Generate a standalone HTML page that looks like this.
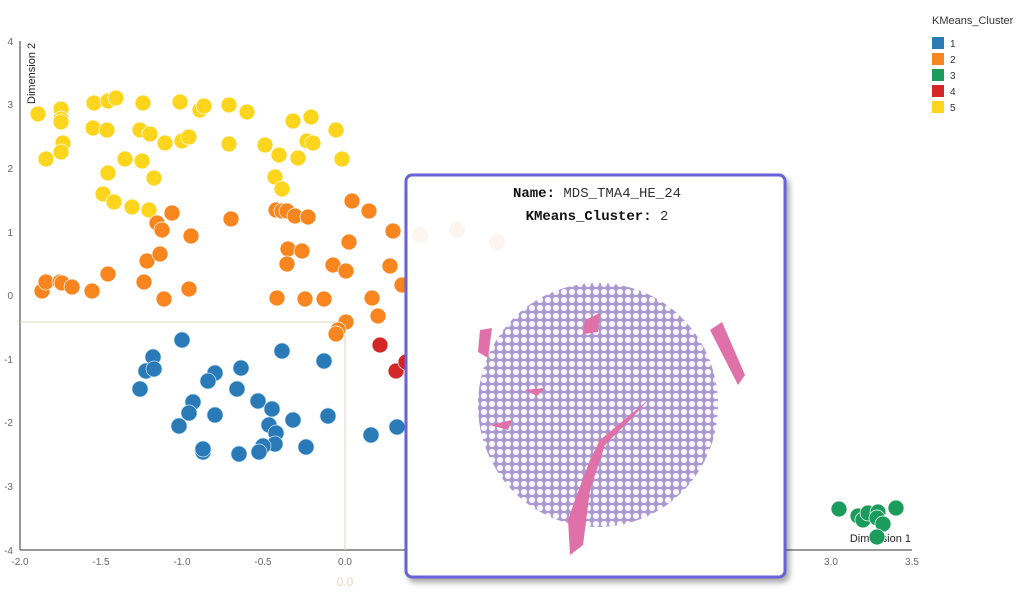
<!DOCTYPE html>
<html><head><meta charset="utf-8"><style>
body{margin:0;background:#fff;width:1024px;height:613px;overflow:hidden;font-family:"Liberation Sans",sans-serif}
</style></head><body>
<svg width="1024" height="613" xmlns="http://www.w3.org/2000/svg" style="position:absolute;left:0;top:0">
<g font-family="Liberation Sans, sans-serif" font-size="10" fill="#666">
<line x1="20" y1="41" x2="20" y2="550" stroke="#333" stroke-width="1"/>
<line x1="20" y1="550" x2="912" y2="550" stroke="#333" stroke-width="1"/>
<g text-anchor="end">
<text x="13" y="45">4</text><text x="13" y="108">3</text><text x="13" y="172">2</text><text x="13" y="236">1</text><text x="13" y="299">0</text><text x="13" y="363">-1</text><text x="13" y="426">-2</text><text x="13" y="490">-3</text><text x="13" y="554">-4</text>
</g>
<g text-anchor="middle">
<text x="20" y="565">-2.0</text><text x="101" y="565">-1.5</text><text x="182" y="565">-1.0</text><text x="263" y="565">-0.5</text><text x="345" y="565">0.0</text><text x="831" y="565">3.0</text><text x="912" y="565">3.5</text>
</g>
<text x="345" y="586" text-anchor="middle" font-size="12" fill="#e6d9c0">0.0</text>
<text transform="translate(35,104) rotate(-90)" font-size="11" fill="#222">Dimension 2</text>
<text x="911" y="542" text-anchor="end" font-size="11" fill="#222">Dimension 1</text>
</g>
<line x1="20" y1="322" x2="345" y2="322" stroke="#e0d6b8"/>
<line x1="345" y1="322" x2="345" y2="550" stroke="#e0d6b8"/>
<g stroke="#fff" stroke-width="0.7" fill="#fdd51c">
<circle cx="38" cy="114" r="8"/><circle cx="61" cy="109" r="8"/><circle cx="61" cy="119" r="8"/><circle cx="61" cy="122" r="8"/><circle cx="63" cy="143" r="8"/><circle cx="61" cy="152" r="8"/><circle cx="46" cy="159" r="8"/><circle cx="94" cy="103" r="8"/><circle cx="108" cy="101" r="8"/><circle cx="116" cy="98" r="8"/><circle cx="143" cy="103" r="8"/><circle cx="180" cy="102" r="8"/><circle cx="200" cy="110" r="8"/><circle cx="204" cy="106" r="8"/><circle cx="229" cy="105" r="8"/><circle cx="247" cy="112" r="8"/><circle cx="93" cy="128" r="8"/><circle cx="107" cy="130" r="8"/><circle cx="140" cy="130" r="8"/><circle cx="150" cy="134" r="8"/><circle cx="165" cy="143" r="8"/><circle cx="182" cy="141" r="8"/><circle cx="189" cy="137" r="8"/><circle cx="229" cy="144" r="8"/><circle cx="265" cy="145" r="8"/><circle cx="279" cy="155" r="8"/><circle cx="293" cy="121" r="8"/><circle cx="311" cy="117" r="8"/><circle cx="307" cy="141" r="8"/><circle cx="313" cy="143" r="8"/><circle cx="298" cy="158" r="8"/><circle cx="336" cy="130" r="8"/><circle cx="342" cy="159" r="8"/><circle cx="125" cy="159" r="8"/><circle cx="142" cy="161" r="8"/><circle cx="108" cy="173" r="8"/><circle cx="154" cy="178" r="8"/><circle cx="103" cy="194" r="8"/><circle cx="114" cy="202" r="8"/><circle cx="132" cy="207" r="8"/><circle cx="149" cy="210" r="8"/><circle cx="275" cy="177" r="8"/><circle cx="282" cy="189" r="8"/>
</g>
<g stroke="#fff" stroke-width="0.7" fill="#f9851e">
<circle cx="42" cy="291" r="8"/><circle cx="46" cy="282" r="8"/><circle cx="60" cy="282" r="8"/><circle cx="62" cy="283" r="8"/><circle cx="72" cy="287" r="8"/><circle cx="92" cy="291" r="8"/><circle cx="108" cy="274" r="8"/><circle cx="144" cy="282" r="8"/><circle cx="147" cy="261" r="8"/><circle cx="160" cy="254" r="8"/><circle cx="164" cy="299" r="8"/><circle cx="189" cy="289" r="8"/><circle cx="157" cy="223" r="8"/><circle cx="162" cy="230" r="8"/><circle cx="172" cy="213" r="8"/><circle cx="191" cy="236" r="8"/><circle cx="231" cy="219" r="8"/><circle cx="276" cy="210" r="8"/><circle cx="282" cy="211" r="8"/><circle cx="287" cy="211" r="8"/><circle cx="295" cy="216" r="8"/><circle cx="308" cy="217" r="8"/><circle cx="288" cy="249" r="8"/><circle cx="287" cy="264" r="8"/><circle cx="302" cy="251" r="8"/><circle cx="333" cy="265" r="8"/><circle cx="346" cy="271" r="8"/><circle cx="349" cy="242" r="8"/><circle cx="352" cy="201" r="8"/><circle cx="369" cy="211" r="8"/><circle cx="393" cy="231" r="8"/><circle cx="390" cy="266" r="8"/><circle cx="402" cy="285" r="8"/><circle cx="277" cy="298" r="8"/><circle cx="305" cy="299" r="8"/><circle cx="324" cy="299" r="8"/><circle cx="372" cy="298" r="8"/><circle cx="378" cy="316" r="8"/><circle cx="346" cy="322" r="8"/><circle cx="338" cy="330" r="8"/><circle cx="336" cy="334" r="8"/>
</g>
<g stroke="#fff" stroke-width="0.7" fill="#d62728">
<circle cx="380" cy="345" r="8"/><circle cx="396" cy="371" r="8"/><circle cx="406" cy="362" r="8"/>
</g>
<g stroke="#cfe6f5" stroke-width="0.7" fill="#2a7ab8">
<circle cx="182" cy="340" r="8"/><circle cx="153" cy="357" r="8"/><circle cx="146" cy="371" r="8"/><circle cx="154" cy="369" r="8"/><circle cx="140" cy="389" r="8"/><circle cx="215" cy="373" r="8"/><circle cx="208" cy="381" r="8"/><circle cx="241" cy="368" r="8"/><circle cx="237" cy="389" r="8"/><circle cx="193" cy="402" r="8"/><circle cx="189" cy="413" r="8"/><circle cx="179" cy="426" r="8"/><circle cx="215" cy="415" r="8"/><circle cx="258" cy="401" r="8"/><circle cx="272" cy="409" r="8"/><circle cx="269" cy="425" r="8"/><circle cx="276" cy="433" r="8"/><circle cx="275" cy="444" r="8"/><circle cx="263" cy="446" r="8"/><circle cx="259" cy="452" r="8"/><circle cx="239" cy="454" r="8"/><circle cx="203" cy="452" r="8"/><circle cx="203" cy="449" r="8"/><circle cx="293" cy="420" r="8"/><circle cx="306" cy="447" r="8"/><circle cx="328" cy="416" r="8"/><circle cx="324" cy="361" r="8"/><circle cx="282" cy="351" r="8"/><circle cx="371" cy="435" r="8"/><circle cx="397" cy="427" r="8"/>
</g>
<g stroke="#fff" stroke-width="0.7" fill="#1c9c5c">
<circle cx="839" cy="509" r="8"/><circle cx="858" cy="516" r="8"/><circle cx="863" cy="520" r="8"/><circle cx="868" cy="513" r="8"/><circle cx="878" cy="512" r="8"/><circle cx="877" cy="518" r="8"/><circle cx="883" cy="524" r="8"/><circle cx="896" cy="508" r="8"/><circle cx="877" cy="537" r="8"/>
</g>
<g font-family="Liberation Sans, sans-serif" font-size="10" fill="#333">
<text x="932" y="24" font-size="11">KMeans_Cluster</text>
<rect x="932" y="37" width="12" height="12" fill="#2a7ab8"/><text x="950" y="47">1</text>
<rect x="932" y="53" width="12" height="12" fill="#f9851e"/><text x="950" y="63">2</text>
<rect x="932" y="69" width="12" height="12" fill="#1c9c5c"/><text x="950" y="79">3</text>
<rect x="932" y="85" width="12" height="12" fill="#d62728"/><text x="950" y="95">4</text>
<rect x="932" y="101" width="12" height="12" fill="#fdd51c"/><text x="950" y="111">5</text>
</g>
<defs>
<filter id="sh" x="-10%" y="-10%" width="120%" height="120%"><feDropShadow dx="3" dy="4" stdDeviation="3" flood-color="#000" flood-opacity="0.35"/></filter>
<pattern id="tis" width="8" height="8" patternUnits="userSpaceOnUse">
<rect width="8" height="8" fill="#9c88c6"/><circle cx="4" cy="4" r="3.1" fill="#f8f5fb"/>
</pattern>
</defs>
<rect x="406" y="175" width="379" height="402" rx="6" fill="#fff" stroke="#6a62d8" stroke-width="3" filter="url(#sh)"/>
<g fill="#fdf5ef"><circle cx="420" cy="235" r="8"/><circle cx="457" cy="230" r="8"/><circle cx="497" cy="242" r="8"/></g>
<g font-family="Liberation Mono, monospace" font-size="14" text-anchor="middle" fill="#333">
<text x="597" y="197"><tspan font-weight="bold" fill="#111">Name:</tspan> MDS_TMA4_HE_24</text>
<text x="597" y="220"><tspan font-weight="bold" fill="#111">KMeans_Cluster:</tspan> 2</text>
</g>
<ellipse cx="598" cy="405" rx="120" ry="122" fill="url(#tis)" opacity="0.85"/>
<path d="M648 400 L600 440 L590 460 L575 500 L568 520 L570 555 L583 545 L590 490 L605 445 L630 420 Z" fill="#e070a8"/>
<path d="M710 330 L722 322 L745 375 L738 385 Z" fill="#e070a8"/>
<path d="M480 330 L492 328 L488 358 L478 352 Z" fill="#e070a8"/>
<path d="M585 320 L600 313 L598 332 L583 334 Z" fill="#e070a8"/>
<path d="M490 425 L512 420 L508 430 Z" fill="#e070a8"/>
<path d="M525 390 L545 388 L537 396 Z" fill="#e070a8"/>
</svg>
</body></html>
